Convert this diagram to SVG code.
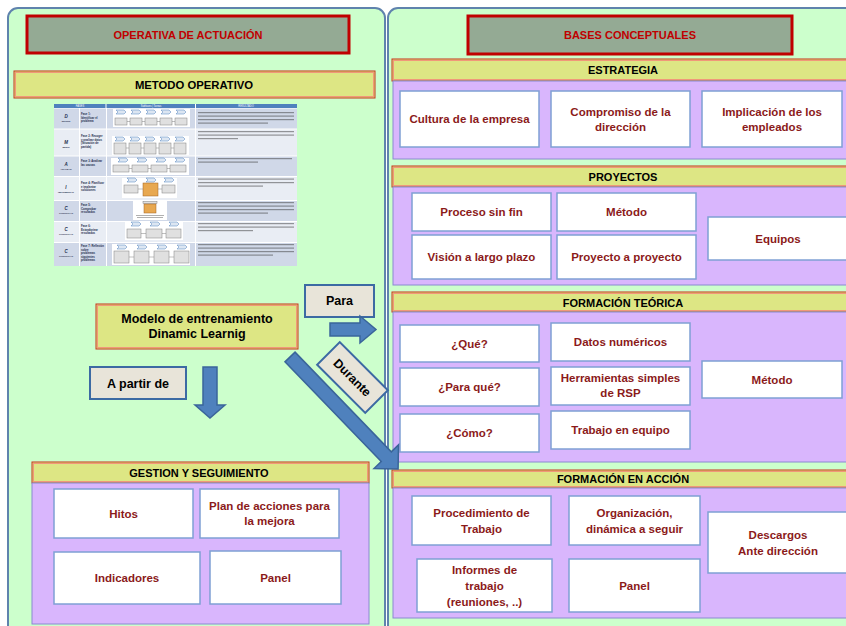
<svg xmlns="http://www.w3.org/2000/svg" xmlns:xlink="http://www.w3.org/1999/xlink" width="846" height="626" viewBox="0 0 846 626">
<style>
.panel{fill:#ccffcc;stroke:#5f83ad;stroke-width:2}
.title{fill:#94aa94;stroke:#c00000;stroke-width:3}
.tt{font-family:"Liberation Sans",Arial,sans-serif;font-weight:bold;font-size:11px;fill:#c00000;text-anchor:middle}
.bar{fill:#dde684;stroke:#c8321f;stroke-width:1}
.barin{fill:none;stroke:#f0987a;stroke-width:1}
.bt{font-family:"Liberation Sans",Arial,sans-serif;font-weight:bold;font-size:11px;fill:#000;text-anchor:middle}
.pur{fill:#d9b6fd;stroke:#8a8ad0;stroke-width:1}
.box{fill:#fff;stroke:#7fa0d4;stroke-width:1.5}
.nt{font-family:"Liberation Sans",Arial,sans-serif;font-weight:bold;font-size:11.5px;fill:#8b1a1a;text-anchor:middle}
.lbl{fill:#e8e4d9;stroke:#3c6aa3;stroke-width:2}
.lt{font-family:"Liberation Sans",Arial,sans-serif;font-weight:bold;font-size:12.5px;fill:#000;text-anchor:middle}
.arr{fill:#4f81bd;stroke:#3a659a;stroke-width:1.5}
.ch{fill:#dce6f2;stroke:#4f81bd;stroke-width:0.5}
.tb{fill:#e0e0e0;stroke:#808080;stroke-width:0.5}
.tor{fill:#e8a850;stroke:#a06020;stroke-width:0.5}
.tw{fill:#fff}
.ln{fill:#3a3a3a;opacity:0.5}
.cl{stroke:#808080;stroke-width:0.5}
.tx{font-family:"Liberation Sans",Arial,sans-serif;font-weight:bold;font-size:2.8px;fill:#1f2f4f}
.tl{font-family:"Liberation Sans",Arial,sans-serif;font-weight:bold;font-style:italic;font-size:4.5px;fill:#1f2f4f;text-anchor:middle}
.ts{font-family:"Liberation Sans",Arial,sans-serif;font-weight:bold;font-size:2.2px;fill:#1f2f4f;text-anchor:middle}
.th{font-family:"Liberation Sans",Arial,sans-serif;font-size:2.6px;fill:#fff;text-anchor:middle}
</style>
<defs>
<polygon id="chev" class="ch" points="0,0 8,0 10,2 8,4 0,4 2,2"/>
</defs>

<g id="panel-left"><rect class="panel" x="8" y="8" width="377" height="660" rx="10"/></g>
<g id="panel-right"><rect class="panel" x="388" y="8" width="470" height="660" rx="10"/></g>

<g id="operativa">
<rect class="title" x="27" y="16" width="322" height="37"/>
<text class="tt" x="188" y="38.5">OPERATIVA DE ACTUACIÓN</text>
</g>

<g id="metodo-operativo">
<rect class="bar" x="14" y="71" width="361" height="27"/>
<rect class="barin" x="15.5" y="72.5" width="358" height="24"/>
<text class="bt" x="194" y="89" style="font-size:11.3px">METODO OPERATIVO</text>
</g>

<g id="tabla">
<rect x="54" y="104" width="243" height="162" fill="#fff"/>
<rect x="54" y="104" width="51.5" height="4" fill="#4f81bd"/>
<rect x="106.5" y="104" width="88.5" height="4" fill="#4f81bd"/>
<rect x="196" y="104" width="101" height="4" fill="#4f81bd"/>
<text class="th" x="80" y="107">FASES</text>
<text class="th" x="151" y="107">Subfases | Tareas</text>
<text class="th" x="246" y="107">RESULTADO</text>
<!-- rows -->
<g fill="#d0d8e8">
<rect x="54" y="108.5" width="25" height="20"/><rect x="80" y="108.5" width="26" height="20"/><rect x="107" y="108.5" width="88" height="20"/><rect x="196" y="108.5" width="101" height="20"/>
<rect x="54" y="156.5" width="25" height="19.5"/><rect x="80" y="156.5" width="26" height="19.5"/><rect x="107" y="156.5" width="88" height="19.5"/><rect x="196" y="156.5" width="101" height="19.5"/>
<rect x="54" y="201" width="25" height="20"/><rect x="80" y="201" width="26" height="20"/><rect x="107" y="201" width="88" height="20"/><rect x="196" y="201" width="101" height="20"/>
<rect x="54" y="243" width="25" height="23"/><rect x="80" y="243" width="26" height="23"/><rect x="107" y="243" width="88" height="23"/><rect x="196" y="243" width="101" height="23"/>
</g>
<g fill="#e9edf4">
<rect x="54" y="129.5" width="25" height="26"/><rect x="80" y="129.5" width="26" height="26"/><rect x="107" y="129.5" width="88" height="26"/><rect x="196" y="129.5" width="101" height="26"/>
<rect x="54" y="177" width="25" height="23"/><rect x="80" y="177" width="26" height="23"/><rect x="107" y="177" width="88" height="23"/><rect x="196" y="177" width="101" height="23"/>
<rect x="54" y="222" width="25" height="20"/><rect x="80" y="222" width="26" height="20"/><rect x="107" y="222" width="88" height="20"/><rect x="196" y="222" width="101" height="20"/>
</g>
<!-- column 1 texts -->
<text class="tl" x="66" y="118">D</text><text class="ts" x="66" y="122">DEFINIR</text>
<text class="tx" x="81" y="115">Fase 1:</text><text class="tx" x="81" y="118.5">Identificar el</text><text class="tx" x="81" y="122">problema</text>
<text class="tl" x="66" y="144">M</text><text class="ts" x="66" y="148">MEDIR</text>
<text class="tx" x="81" y="137">Fase 2: Recoger</text><text class="tx" x="81" y="140.5">y analizar datos</text><text class="tx" x="81" y="144">(Situación de</text><text class="tx" x="81" y="147.5">partida)</text>
<text class="tl" x="66" y="166">A</text><text class="ts" x="66" y="170">ANALIZAR</text>
<text class="tx" x="81" y="162">Fase 3: Analizar</text><text class="tx" x="81" y="165.5">las causas</text>
<text class="tl" x="66" y="189">I</text><text class="ts" x="66" y="193">IMPLEMENTAR</text>
<text class="tx" x="81" y="184">Fase 4: Planificar</text><text class="tx" x="81" y="187.5">e implantar</text><text class="tx" x="81" y="191">soluciones</text>
<text class="tl" x="66" y="210">C</text><text class="ts" x="66" y="214">CONTROLAR</text>
<text class="tx" x="81" y="206">Fase 5:</text><text class="tx" x="81" y="209.5">Comprobar</text><text class="tx" x="81" y="213">resultados</text>
<text class="tl" x="66" y="231">C</text><text class="ts" x="66" y="235">CONTROLAR</text>
<text class="tx" x="81" y="227">Fase 6:</text><text class="tx" x="81" y="230.5">Estandarizar</text><text class="tx" x="81" y="234">resultados</text>
<text class="tl" x="66" y="253">C</text><text class="ts" x="66" y="257">CONTROLAR</text>
<text class="tx" x="81" y="247">Fase 7: Reflexión</text><text class="tx" x="81" y="250.5">sobre</text><text class="tx" x="81" y="254">problemas</text><text class="tx" x="81" y="257.5">siguientes</text><text class="tx" x="81" y="261">problemas</text>
<!-- column 2 diagrams -->
<rect class="tw" x="113" y="109" width="77" height="18"/>
<use xlink:href="#chev" x="116" y="110"/><use xlink:href="#chev" x="131" y="110"/><use xlink:href="#chev" x="146" y="110"/><use xlink:href="#chev" x="161" y="110"/><use xlink:href="#chev" x="176" y="110"/>
<line class="cl" x1="115" y1="121.5" x2="187" y2="121.5"/>
<rect class="tb" x="115" y="118" width="12" height="7"/><rect class="tb" x="130" y="118" width="12" height="7"/><rect class="tb" x="145" y="118" width="12" height="7"/><rect class="tb" x="160" y="118" width="12" height="7"/><rect class="tb" x="175" y="118" width="12" height="7"/>

<rect class="tw" x="112" y="136" width="77" height="19"/>
<use xlink:href="#chev" x="115" y="137"/><use xlink:href="#chev" x="130" y="137"/><use xlink:href="#chev" x="145" y="137"/><use xlink:href="#chev" x="160" y="137"/><use xlink:href="#chev" x="175" y="137"/>
<line class="cl" x1="114" y1="148" x2="186" y2="148"/>
<rect class="tb" x="114" y="143" width="12" height="11"/><rect class="tb" x="129" y="143" width="12" height="11"/><rect class="tb" x="144" y="143" width="12" height="11"/><rect class="tb" x="159" y="143" width="12" height="11"/><rect class="tb" x="174" y="143" width="12" height="11"/>

<rect class="tw" x="111" y="158" width="78" height="17"/>
<use xlink:href="#chev" x="118" y="158"/><use xlink:href="#chev" x="137" y="158"/><use xlink:href="#chev" x="156" y="158"/><use xlink:href="#chev" x="175" y="158"/>
<line class="cl" x1="113" y1="168.5" x2="186" y2="168.5"/>
<rect class="tb" x="113" y="165" width="16" height="7"/><rect class="tb" x="132" y="165" width="16" height="7"/><rect class="tb" x="151" y="165" width="16" height="7"/><rect class="tb" x="170" y="165" width="16" height="7"/>

<rect class="tw" x="122" y="178" width="55" height="20"/>
<use xlink:href="#chev" x="127" y="178"/><use xlink:href="#chev" x="146" y="178"/><use xlink:href="#chev" x="164" y="178"/>
<line class="cl" x1="124" y1="189" x2="175" y2="189"/>
<rect class="tb" x="124" y="185" width="14" height="8"/><rect class="tor" x="143" y="183" width="15" height="13"/><rect class="tb" x="162" y="185" width="13" height="8"/>

<rect class="tw" x="133" y="201" width="34" height="19"/>
<rect class="tb" x="143" y="201.5" width="14" height="2"/>
<rect class="tor" x="144" y="204" width="12" height="9"/>
<rect class="ln" x="136" y="215" width="28" height="0.8"/><rect class="ln" x="137" y="217" width="26" height="0.8"/>

<rect class="tw" x="125" y="222" width="58" height="18"/>
<use xlink:href="#chev" x="131" y="222"/><use xlink:href="#chev" x="150" y="222"/><use xlink:href="#chev" x="169" y="222"/>
<line class="cl" x1="127" y1="233.5" x2="181" y2="233.5"/>
<rect class="tb" x="127" y="229" width="14" height="9"/><rect class="tb" x="146" y="229" width="16" height="9"/><rect class="tb" x="166" y="229" width="15" height="9"/>

<rect class="tw" x="112" y="244" width="78" height="21"/>
<use xlink:href="#chev" x="117" y="245"/><use xlink:href="#chev" x="137" y="245"/><use xlink:href="#chev" x="157" y="245"/><use xlink:href="#chev" x="177" y="245"/>
<line class="cl" x1="114" y1="257" x2="189" y2="257"/>
<rect class="tb" x="114" y="251" width="15" height="12"/><rect class="tb" x="134" y="251" width="15" height="12"/><rect class="tb" x="154" y="251" width="15" height="12"/><rect class="tb" x="174" y="251" width="15" height="12"/>
<!-- column 3 text lines -->
<rect class="ln" x="198" y="112" width="96" height="1.2"/><rect class="ln" x="198" y="115.5" width="96" height="1.2"/><rect class="ln" x="198" y="119" width="96" height="1.2"/><rect class="ln" x="198" y="122.5" width="70" height="1.2"/>
<rect class="ln" x="198" y="131" width="96" height="1.2"/><rect class="ln" x="198" y="134.5" width="96" height="1.2"/><rect class="ln" x="198" y="138" width="40" height="1.2"/>
<rect class="ln" x="198" y="158" width="94" height="1.2"/><rect class="ln" x="198" y="161.5" width="60" height="1.2"/>
<rect class="ln" x="198" y="178.5" width="96" height="1.2"/><rect class="ln" x="198" y="182" width="96" height="1.2"/><rect class="ln" x="198" y="185.5" width="65" height="1.2"/>
<rect class="ln" x="198" y="202" width="96" height="1.2"/><rect class="ln" x="198" y="205.5" width="96" height="1.2"/><rect class="ln" x="198" y="209" width="96" height="1.2"/><rect class="ln" x="198" y="212.5" width="70" height="1.2"/>
<rect class="ln" x="198" y="223" width="96" height="1.2"/><rect class="ln" x="198" y="226.5" width="96" height="1.2"/><rect class="ln" x="198" y="230" width="55" height="1.2"/>
<rect class="ln" x="198" y="244" width="96" height="1.2"/><rect class="ln" x="198" y="247.5" width="96" height="1.2"/><rect class="ln" x="198" y="251" width="96" height="1.2"/><rect class="ln" x="198" y="254.5" width="75" height="1.2"/>
</g>

<g id="modelo">
<rect class="bar" x="96" y="304" width="202" height="45"/>
<rect class="barin" x="97.5" y="305.5" width="199" height="42"/>
<text class="lt" x="197" y="323">Modelo de entrenamiento</text>
<text class="lt" x="197" y="338">Dinamic Learnig</text>
</g>

<g id="para"><rect class="lbl" x="305" y="285" width="69" height="32"/><text class="lt" x="339.5" y="305">Para</text></g>
<g id="a-partir-de"><rect class="lbl" x="90" y="367" width="96" height="32"/><text class="lt" x="138" y="387.5">A partir de</text></g>
<g id="durante" transform="translate(352.5,377.5) rotate(45)"><rect class="lbl" x="-34" y="-16" width="68" height="32"/><text class="lt" x="0" y="4.5">Durante</text></g>

<g id="gestion">
<rect class="bar" x="32" y="462" width="337" height="21"/>
<rect class="barin" x="33.5" y="463.5" width="334" height="18"/>
<text class="bt" x="199" y="477">GESTION Y SEGUIMIENTO</text>
<rect class="pur" x="32" y="483" width="337" height="141"/>
</g>
<g id="hitos"><rect class="box" x="54" y="489" width="139" height="49"/><text class="nt" x="123.5" y="517.5">Hitos</text></g>
<g id="plan"><rect class="box" x="200" y="489" width="139" height="49"/><text class="nt" x="269.5" y="510">Plan de acciones para</text><text class="nt" x="269.5" y="525">la mejora</text></g>
<g id="indicadores"><rect class="box" x="54" y="552" width="146" height="52"/><text class="nt" x="127" y="582">Indicadores</text></g>
<g id="panel-gestion"><rect class="box" x="210" y="551" width="131" height="53"/><text class="nt" x="275.5" y="581.5">Panel</text></g>

<g id="bases">
<rect class="title" x="468" y="16" width="324" height="38"/>
<text class="tt" x="630" y="39">BASES CONCEPTUALES</text>
</g>

<g id="estrategia">
<rect class="bar" x="392" y="59" width="462" height="22"/>
<rect class="barin" x="393.5" y="60.5" width="459" height="19"/>
<text class="bt" x="623" y="74">ESTRATEGIA</text>
<rect class="pur" x="393" y="81" width="462" height="78"/>
</g>
<g id="cultura"><rect class="box" x="400" y="91" width="139" height="56"/><text class="nt" x="469.5" y="123">Cultura de la empresa</text></g>
<g id="compromiso"><rect class="box" x="551" y="91" width="139" height="56"/><text class="nt" x="620.5" y="115.5">Compromiso de la</text><text class="nt" x="620.5" y="130.5">dirección</text></g>
<g id="implicacion"><rect class="box" x="702" y="91" width="140" height="56"/><text class="nt" x="772" y="115.5">Implicación de los</text><text class="nt" x="772" y="130.5">empleados</text></g>

<g id="proyectos">
<rect class="bar" x="392" y="166" width="462" height="21"/>
<rect class="barin" x="393.5" y="167.5" width="459" height="18"/>
<text class="bt" x="623" y="180.5">PROYECTOS</text>
<rect class="pur" x="393" y="187" width="462" height="98"/>
</g>
<g id="proceso"><rect class="box" x="412" y="193" width="139" height="38"/><text class="nt" x="481.5" y="216">Proceso sin fin</text></g>
<g id="metodo-p"><rect class="box" x="557" y="193" width="139" height="38"/><text class="nt" x="626.5" y="216">Método</text></g>
<g id="vision"><rect class="box" x="412" y="235" width="139" height="44"/><text class="nt" x="481.5" y="261">Visión a largo plazo</text></g>
<g id="proyecto"><rect class="box" x="557" y="235" width="139" height="44"/><text class="nt" x="626.5" y="261">Proyecto a proyecto</text></g>
<g id="equipos"><rect class="box" x="708" y="217" width="140" height="43"/><text class="nt" x="778" y="243">Equipos</text></g>

<g id="formacion-teorica">
<rect class="bar" x="392" y="292" width="462" height="20"/>
<rect class="barin" x="393.5" y="293.5" width="459" height="17"/>
<text class="bt" x="623" y="306.5">FORMACIÓN TEÓRICA</text>
<rect class="pur" x="393" y="312" width="462" height="150"/>
</g>
<g id="que"><rect class="box" x="400" y="325" width="139" height="37"/><text class="nt" x="469.5" y="347.5">¿Qué?</text></g>
<g id="datos"><rect class="box" x="551" y="323" width="139" height="38"/><text class="nt" x="620.5" y="346">Datos numéricos</text></g>
<g id="para-que"><rect class="box" x="400" y="368" width="139" height="38"/><text class="nt" x="469.5" y="391">¿Para qué?</text></g>
<g id="herramientas"><rect class="box" x="551" y="367" width="139" height="38"/><text class="nt" x="620.5" y="382">Herramientas simples</text><text class="nt" x="620.5" y="397">de RSP</text></g>
<g id="como"><rect class="box" x="400" y="414" width="139" height="38"/><text class="nt" x="469.5" y="437">¿Cómo?</text></g>
<g id="trabajo"><rect class="box" x="551" y="411" width="139" height="38"/><text class="nt" x="620.5" y="434">Trabajo en equipo</text></g>
<g id="metodo-t"><rect class="box" x="702" y="361" width="140" height="37"/><text class="nt" x="772" y="384">Método</text></g>

<g id="formacion-accion">
<rect class="bar" x="392" y="470" width="462" height="18"/>
<rect class="barin" x="393.5" y="471.5" width="459" height="15"/>
<text class="bt" x="623" y="483">FORMACIÓN EN ACCIÓN</text>
<rect class="pur" x="393" y="488" width="462" height="130"/>
</g>
<g id="procedimiento"><rect class="box" x="412" y="496" width="139" height="49"/><text class="nt" x="481.5" y="517">Procedimiento de</text><text class="nt" x="481.5" y="533">Trabajo</text></g>
<g id="organizacion"><rect class="box" x="569" y="496" width="131" height="49"/><text class="nt" x="634.5" y="517">Organización,</text><text class="nt" x="634.5" y="533">dinámica a seguir</text></g>
<g id="descargos"><rect class="box" x="708" y="512" width="140" height="61"/><text class="nt" x="778" y="538.5">Descargos</text><text class="nt" x="778" y="554.5">Ante dirección</text></g>
<g id="informes"><rect class="box" x="417" y="559" width="135" height="53"/><text class="nt" x="484.5" y="573.5">Informes de</text><text class="nt" x="484.5" y="589.5">trabajo</text><text class="nt" x="484.5" y="605.5">(reuniones, ..)</text></g>
<g id="panel-accion"><rect class="box" x="569" y="559" width="131" height="53"/><text class="nt" x="634.5" y="590">Panel</text></g>

<g id="connectors">
<polygon class="arr" points="330,323 360,323 360,316 376,329.5 360,343 360,336 330,336"/>
<polygon class="arr" points="203,367 217,367 217,405 225,405 210,418 195,405 203,405"/>
<polygon class="arr" transform="translate(290,357) rotate(46)" points="0,-7 138.6,-7 138.6,-17 155.6,0 138.6,17 138.6,7 0,7"/>
</g>
</svg>
